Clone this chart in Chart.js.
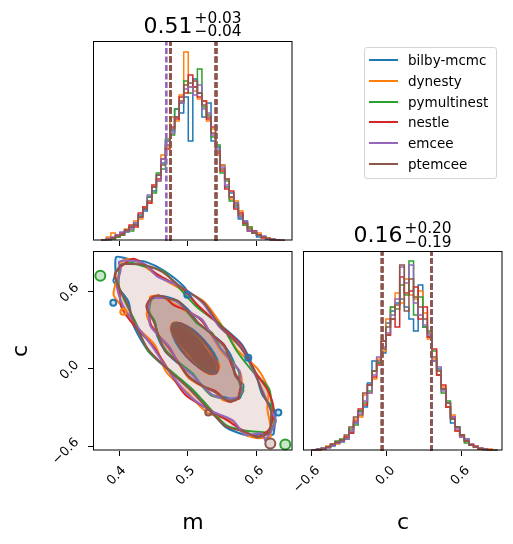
<!DOCTYPE html>
<html>
<head>
<meta charset="utf-8">
<script src="https://cdn.jsdelivr.net/npm/chart.js@4.4.1/dist/chart.umd.min.js"></script>
<style>
  body { margin: 0; background: #fff; }
  #page { position: relative; width: 513px; height: 544px; overflow: hidden; font-family: "DejaVu Sans", sans-serif; color: #000; }
  #page canvas { position: absolute; }
  .num { position: absolute; font-size: 22px; line-height: 22px; white-space: nowrap; }
  .scr { position: absolute; font-size: 15.4px; line-height: 15.4px; white-space: nowrap; }
  #legend { position: absolute; left: 364px; top: 47px; width: 131px; height: 130px; border: 1px solid #d4d4d4; border-radius: 3px; background: #fff; }
  .row { position: absolute; left: 0; width: 131px; height: 16px; font-size: 13.5px; line-height: 16px; white-space: nowrap; }
  .row i { position: absolute; left: 4px; top: 7px; width: 29px; height: 2px; }
  .row span { position: absolute; left: 43px; top: 0; }
</style>
</head>
<body>
<div id="page">
  <canvas id="histM" width="240" height="230" style="left:63px;top:21px"></canvas>
  <canvas id="scat" width="310" height="313" style="left:0px;top:231px"></canvas>
  <canvas id="histC" width="250" height="313" style="left:263px;top:231px"></canvas>

  <div class="num" style="left:143.5px;top:14.7px">0.51</div>
  <div class="scr" style="left:194.5px;top:11px">+0.03</div>
  <div class="scr" style="left:194.5px;top:24.3px">&minus;0.04</div>

  <div class="num" style="left:353.5px;top:224.4px">0.16</div>
  <div class="scr" style="left:404.5px;top:221px">+0.20</div>
  <div class="scr" style="left:404.5px;top:235.3px">&minus;0.19</div>

  <div id="legend"></div>
</div>
<script>
// samplers, in plotting order
const SAMPLERS = ['bilby-mcmc', 'dynesty', 'pymultinest', 'nestle', 'emcee', 'ptemcee'];
const COLORS = ['#1f77b4', '#ff7f0e', '#2ca02c', '#d62728', '#9467bd', '#8c564b'];

const M_TICKS = [0.4, 0.5, 0.6];
const C_TICKS = [-0.6, 0.0, 0.6];

// m histograms: 40 bins starting at 0.375, width 0.0066 (heights as fraction of panel)
const M_START = 0.375, M_WIDTH = 0.0066;
const mHistBilby = [0.003,0.008,0.012,0.02,0.04,0.045,0.07,0.08,0.13,0.15,0.22,0.25,0.33,0.39,0.5,0.55,0.66,0.64,0.72,0.50,0.81,0.74,0.62,0.69,0.50,0.47,0.38,0.27,0.24,0.17,0.11,0.10,0.05,0.05,0.02,0.02,0.01,0.006,0.004,0.002];
const mHistDynesty = [0.006,0.02,0.04,0.02,0.03,0.06,0.06,0.10,0.11,0.17,0.19,0.27,0.30,0.43,0.47,0.62,0.60,0.73,0.945,0.77,0.75,0.71,0.70,0.60,0.56,0.43,0.38,0.31,0.21,0.20,0.15,0.08,0.07,0.04,0.04,0.02,0.015,0.008,0.006,0.003];
const mHistPymultinest = [0.004,0.006,0.01,0.02,0.03,0.05,0.05,0.09,0.12,0.16,0.22,0.24,0.34,0.36,0.51,0.53,0.66,0.69,0.80,0.74,0.77,0.86,0.67,0.63,0.52,0.48,0.34,0.30,0.20,0.19,0.12,0.08,0.07,0.04,0.03,0.02,0.012,0.01,0.004,0.002];
const mHistNestle = [0.003,0.01,0.015,0.03,0.04,0.05,0.08,0.07,0.14,0.17,0.19,0.28,0.31,0.41,0.46,0.57,0.61,0.72,0.74,0.83,0.77,0.72,0.70,0.61,0.57,0.44,0.35,0.26,0.25,0.16,0.14,0.09,0.05,0.05,0.03,0.015,0.012,0.006,0.004,0.002];
const mHistEmcee = [0.004,0.012,0.02,0.03,0.045,0.05,0.06,0.09,0.12,0.16,0.23,0.27,0.30,0.41,0.50,0.54,0.62,0.69,0.76,0.77,0.73,0.78,0.66,0.64,0.53,0.46,0.37,0.28,0.22,0.19,0.12,0.10,0.05,0.045,0.03,0.025,0.01,0.01,0.005,0.002];
const mHistPtemcee = [0.005,0.008,0.015,0.025,0.03,0.055,0.07,0.08,0.12,0.16,0.20,0.27,0.33,0.38,0.48,0.56,0.62,0.70,0.78,0.79,0.80,0.74,0.68,0.62,0.54,0.45,0.36,0.31,0.22,0.18,0.13,0.09,0.06,0.04,0.03,0.02,0.012,0.008,0.005,0.002];

// c histograms: 40 bins starting at -0.6, width 0.037
const C_START = -0.6, C_WIDTH = 0.037;
const cHistBilby = [0.003,0.01,0.015,0.02,0.025,0.04,0.045,0.06,0.09,0.14,0.20,0.22,0.34,0.45,0.44,0.49,0.64,0.70,0.74,0.76,0.72,0.66,0.60,0.83,0.62,0.57,0.45,0.41,0.31,0.22,0.14,0.12,0.07,0.06,0.03,0.02,0.01,0.008,0.004,0.002];
const cHistDynesty = [0.005,0.006,0.012,0.025,0.035,0.035,0.055,0.07,0.10,0.16,0.17,0.28,0.29,0.36,0.46,0.50,0.66,0.72,0.79,0.74,0.86,0.78,0.76,0.80,0.69,0.56,0.46,0.40,0.32,0.22,0.18,0.10,0.07,0.05,0.035,0.02,0.015,0.008,0.01,0.002];
const cHistPymultinest = [0.003,0.008,0.01,0.02,0.03,0.05,0.06,0.06,0.11,0.13,0.20,0.24,0.30,0.40,0.44,0.55,0.58,0.72,0.71,0.83,0.78,0.95,0.68,0.77,0.62,0.60,0.50,0.38,0.29,0.25,0.16,0.12,0.08,0.04,0.03,0.02,0.012,0.008,0.004,0.002];
const cHistNestle = [0.004,0.006,0.012,0.02,0.03,0.04,0.05,0.07,0.09,0.15,0.21,0.23,0.33,0.37,0.43,0.55,0.58,0.66,0.62,0.87,0.79,0.80,0.82,0.66,0.72,0.57,0.51,0.38,0.33,0.22,0.17,0.10,0.08,0.05,0.03,0.025,0.01,0.01,0.005,0.002];
const cHistEmcee = [0.004,0.01,0.012,0.015,0.03,0.04,0.05,0.06,0.10,0.14,0.19,0.25,0.29,0.38,0.47,0.52,0.59,0.68,0.76,0.92,0.84,0.93,0.74,0.68,0.63,0.58,0.45,0.42,0.30,0.24,0.17,0.11,0.07,0.06,0.035,0.02,0.015,0.01,0.004,0.002];
const cHistPtemcee = [0.006,0.008,0.01,0.02,0.035,0.045,0.055,0.08,0.12,0.17,0.18,0.29,0.33,0.40,0.45,0.51,0.62,0.66,0.73,0.93,0.70,0.86,0.77,0.72,0.66,0.59,0.47,0.40,0.31,0.24,0.16,0.12,0.08,0.05,0.03,0.02,0.013,0.008,0.004,0.002];

// 16% / 84% quantiles per sampler
const mLow = [0.4745, 0.4745, 0.4745, 0.4745, 0.4686, 0.4745];
const mHigh = [0.5406, 0.5406, 0.5406, 0.5406, 0.5406, 0.5406];
const cLow = [-0.038, -0.038, -0.038, -0.038, -0.038, -0.038];
const cHigh = [0.358, 0.358, 0.358, 0.358, 0.358, 0.358];

// 2D contours, [m, c] points
const innerBilby = [[0.543,-0.02],[0.545,0.03],[0.538,0.12],[0.524,0.22],[0.506,0.31],[0.49,0.35],[0.479,0.35],[0.476,0.3],[0.482,0.21],[0.497,0.1],[0.514,0.02],[0.532,-0.03]];
const midBilby = [[0.575,-0.23],[0.5793,-0.1724],[0.58,-0.12],[0.5682,-0.0479],[0.566,0.06],[0.5528,0.1842],[0.537,0.26],[0.5147,0.3581],[0.502,0.45],[0.4858,0.5269],[0.47,0.56],[0.4564,0.5659],[0.448,0.55],[0.4407,0.4924],[0.443,0.44],[0.4518,0.3679],[0.455,0.26],[0.4672,0.1358],[0.484,0.05],[0.5053,-0.0381],[0.519,-0.12],[0.5353,-0.2018],[0.553,-0.22],[0.5658,-0.2357]];
const outerBilby = [[0.624,-0.51],[0.6263,-0.4107],[0.626,-0.33],[0.6076,-0.1994],[0.598,-0.03],[0.579,0.1845],[0.552,0.32],[0.5147,0.4817],[0.494,0.64],[0.465,0.7644],[0.44,0.83],[0.4184,0.8462],[0.396,0.87],[0.3948,0.7358],[0.392,0.68],[0.4135,0.5245],[0.42,0.35],[0.4421,0.1406],[0.47,0.0],[0.5052,-0.1617],[0.53,-0.30],[0.5539,-0.45],[0.588,-0.52],[0.606,-0.5058]];

const innerDynesty = [[0.54,-0.04],[0.546,0.02],[0.535,0.11],[0.52,0.22],[0.503,0.31],[0.487,0.36],[0.477,0.355],[0.475,0.30],[0.485,0.20],[0.50,0.10],[0.516,0.01],[0.530,-0.04]];
const midDynesty = [[0.571,-0.24],[0.5749,-0.1928],[0.578,-0.10],[0.5748,-0.0173],[0.56,0.07],[0.5462,0.1536],[0.532,0.28],[0.5202,0.3836],[0.50,0.44],[0.4803,0.5014],[0.466,0.55],[0.4575,0.571],[0.445,0.56],[0.4462,0.5179],[0.44,0.43],[0.4463,0.3424],[0.46,0.25],[0.4738,0.1664],[0.487,0.04],[0.4998,-0.0636],[0.522,-0.14],[0.5397,-0.1814],[0.55,-0.24],[0.5625,-0.251]];
const outerDynesty = [[0.62,-0.53],[0.6197,-0.4413],[0.615,-0.31],[0.6164,-0.1586],[0.601,0.0],[0.5713,0.1488],[0.55,0.33],[0.5235,0.5225],[0.49,0.62],[0.4562,0.7236],[0.436,0.80],[0.4195,0.8513],[0.405,0.84],[0.4014,0.7664],[0.392,0.58],[0.4047,0.4837],[0.425,0.33],[0.452,0.1865],[0.468,-0.02],[0.4997,-0.1872],[0.528,-0.34],[0.5638,-0.4041],[0.58,-0.50],[0.5994,-0.5364]];

const innerPymultinest = [[0.541,-0.03],[0.543,0.02],[0.537,0.11],[0.522,0.21],[0.505,0.30],[0.489,0.35],[0.479,0.35],[0.477,0.30],[0.484,0.21],[0.498,0.10],[0.515,0.02],[0.531,-0.03]];
const midPymultinest = [[0.574,-0.22],[0.5804,-0.1673],[0.575,-0.12],[0.5737,-0.0224],[0.563,0.07],[0.5473,0.1587],[0.535,0.28],[0.5136,0.353],[0.498,0.45],[0.4847,0.5218],[0.468,0.55],[0.4542,0.5557],[0.447,0.54],[0.4451,0.5128],[0.444,0.44],[0.4518,0.3679],[0.457,0.25],[0.4683,0.1409],[0.487,0.05],[0.5064,-0.033],[0.52,-0.13],[0.5342,-0.2069],[0.553,-0.23],[0.5669,-0.2306]];
const outerPymultinest = [[0.618,-0.50],[0.6252,-0.4158],[0.622,-0.32],[0.6175,-0.1535],[0.594,-0.02],[0.5702,0.1437],[0.548,0.34],[0.5136,0.4766],[0.487,0.63],[0.4639,0.7593],[0.434,0.80],[0.414,0.8258],[0.402,0.80],[0.4003,0.7613],[0.4,0.64],[0.4102,0.5092],[0.426,0.34],[0.4421,0.1406],[0.474,-0.01],[0.5063,-0.1566],[0.534,-0.32],[0.5561,-0.4398],[0.585,-0.48],[0.6093,-0.4905]];

const innerNestle = [[0.542,-0.03],[0.544,0.02],[0.536,0.11],[0.522,0.22],[0.504,0.31],[0.488,0.355],[0.478,0.35],[0.476,0.30],[0.484,0.21],[0.498,0.10],[0.516,0.01],[0.532,-0.035]];
const midNestle = [[0.574,-0.23],[0.5738,-0.1979],[0.577,-0.11],[0.5693,-0.0428],[0.561,0.06],[0.5528,0.1842],[0.534,0.27],[0.5191,0.3785],[0.50,0.45],[0.4792,0.4963],[0.468,0.55],[0.4575,0.571],[0.446,0.55],[0.4396,0.4873],[0.443,0.43],[0.4463,0.3424],[0.457,0.26],[0.4727,0.1613],[0.486,0.05],[0.5009,-0.0585],[0.52,-0.13],[0.5408,-0.1763],[0.552,-0.23],[0.5614,-0.2561]];
const outerNestle = [[0.616,-0.48],[0.6208,-0.4362],[0.624,-0.30],[0.6153,-0.1637],[0.596,-0.01],[0.5779,0.1794],[0.546,0.34],[0.5158,0.4868],[0.49,0.63],[0.4573,0.7287],[0.437,0.81],[0.4206,0.8564],[0.404,0.80],[0.3937,0.7307],[0.40,0.63],[0.4036,0.4786],[0.423,0.33],[0.4498,0.1763],[0.473,-0.02],[0.4964,-0.2025],[0.532,-0.32],[0.5616,-0.4143],[0.583,-0.49],[0.6016,-0.5262]];

const innerEmcee = [[0.541,-0.035],[0.543,0.02],[0.536,0.11],[0.522,0.215],[0.505,0.305],[0.489,0.355],[0.478,0.352],[0.476,0.298],[0.484,0.207],[0.498,0.104],[0.515,0.015],[0.531,-0.035]];
const midEmcee = [[0.572,-0.22],[0.5782,-0.1775],[0.576,-0.12],[0.5748,-0.0173],[0.562,0.065],[0.5473,0.1587],[0.533,0.275],[0.5202,0.3836],[0.499,0.45],[0.4847,0.5218],[0.467,0.55],[0.4531,0.5506],[0.447,0.545],[0.444,0.5077],[0.443,0.44],[0.4452,0.3373],[0.458,0.255],[0.4738,0.1664],[0.486,0.048],[0.5053,-0.0381],[0.521,-0.13],[0.5353,-0.2018],[0.552,-0.23],[0.568,-0.2255]];
const outerEmcee = [[0.612,-0.56],[0.6274,-0.4056],[0.62,-0.32],[0.6098,-0.1892],[0.595,-0.02],[0.5768,0.1743],[0.545,0.33],[0.5213,0.5123],[0.489,0.64],[0.4551,0.7185],[0.436,0.82],[0.4173,0.8411],[0.40,0.83],[0.4025,0.7715],[0.397,0.64],[0.4058,0.4888],[0.425,0.34],[0.4487,0.1712],[0.472,-0.015],[0.4986,-0.1923],[0.531,-0.32],[0.5649,-0.399],[0.583,-0.51],[0.6071,-0.5007]];

const innerPtemcee = [[0.5415,-0.0324],[0.5433,0.0215],[0.5361,0.1125],[0.522,0.2162],[0.5046,0.3049],[0.4887,0.3547],[0.4785,0.3524],[0.4767,0.2985],[0.4839,0.2075],[0.498,0.1038],[0.5154,0.0151],[0.5313,-0.0347]];
const midPtemcee = [[0.573,-0.2248],[0.5749,-0.1928],[0.5766,-0.117],[0.5682,-0.0479],[0.5623,0.0649],[0.5517,0.1791],[0.534,0.2724],[0.5147,0.3581],[0.4993,0.4497],[0.4858,0.5269],[0.4674,0.5494],[0.4575,0.571],[0.447,0.5448],[0.4407,0.4924],[0.4434,0.437],[0.4507,0.3628],[0.4577,0.2551],[0.4672,0.1358],[0.486,0.0476],[0.5009,-0.0585],[0.5207,-0.1297],[0.5397,-0.1814],[0.5526,-0.2294],[0.5625,-0.251]];
const outerPtemcee = [[0.617,-0.50],[0.6197,-0.4413],[0.62,-0.32],[0.6087,-0.1943],[0.596,-0.015],[0.5757,0.1692],[0.547,0.33],[0.5224,0.5174],[0.489,0.64],[0.4628,0.7542],[0.436,0.81],[0.4118,0.8156],[0.403,0.81],[0.3948,0.7358],[0.399,0.64],[0.4113,0.5143],[0.424,0.335],[0.4432,0.1457],[0.473,-0.015],[0.5041,-0.1668],[0.531,-0.32],[0.555,-0.445],[0.584,-0.49],[0.6005,-0.5313]];

// small isolated contour islands
const islandM = [0.3729, 0.641, 0.6193, 0.631, 0.5874, 0.5294, 0.3917, 0.4062, 0.499];
const islandC = [0.723, -0.586, -0.579, -0.339, 0.088, -0.339, 0.514, 0.444, 0.576];
const islandOf = [2, 2, 5, 0, 0, 5, 0, 1, 0];

const M_HISTS = [mHistBilby, mHistDynesty, mHistPymultinest, mHistNestle, mHistEmcee, mHistPtemcee];
const C_HISTS = [cHistBilby, cHistDynesty, cHistPymultinest, cHistNestle, cHistEmcee, cHistPtemcee];
const INNER = [innerBilby, innerDynesty, innerPymultinest, innerNestle, innerEmcee, innerPtemcee];
const MID = [midBilby, midDynesty, midPymultinest, midNestle, midEmcee, midPtemcee];
const OUTER = [outerBilby, outerDynesty, outerPymultinest, outerNestle, outerEmcee, outerPtemcee];

const ISLAND_SIZE = [5, 5, 5, 3, 3, 3, 3, 3, 3];

Chart.defaults.font.family = '"DejaVu Sans", sans-serif';
Chart.defaults.color = '#000';
Chart.defaults.animation = false;
Chart.defaults.events = [];
Chart.defaults.plugins.legend.display = false;
Chart.defaults.plugins.tooltip.enabled = false;

// black box round every panel
const frame = {
    id: 'frame',
    afterDraw(chart) {
        const a = chart.chartArea, ctx = chart.ctx;
        ctx.save();
        ctx.strokeStyle = '#000';
        ctx.lineWidth = 1;
        const l = Math.round(a.left) + 0.5, t = Math.round(a.top) + 0.5;
        ctx.strokeRect(l, t, Math.round(a.right) - 1 - l, Math.round(a.bottom) - 1 - t);
        ctx.restore();
    }
};

function rgba(hex, a) {
    const n = parseInt(hex.slice(1), 16);
    return `rgba(${n >> 16},${(n >> 8) & 255},${n & 255},${a})`;
}

// first dataset in the list is drawn first
function drawInOrder(list) {
    const n = list.length;
    list.forEach((d, i) => { d.order = n - i; });
    return list;
}

const fmtM = v => v.toFixed(1);
const fmtC = v => (v < 0 ? '\u2212' : '') + Math.abs(v).toFixed(1);

function xAxis(min, max, tickVals, fmt, showLabels, height, title, labelOffset) {
    return {
        type: 'linear', min: min, max: max,
        afterBuildTicks: s => { s.ticks = tickVals.map(v => ({ value: v })); },
        afterFit: s => { s.height = height; },
        border: { display: false },
        grid: { drawOnChartArea: false, tickLength: 5, tickWidth: 1, tickColor: '#000' },
        ticks: {
            display: showLabels, callback: fmt, autoSkip: false,
            minRotation: 45, maxRotation: 45, padding: 7, labelOffset: labelOffset,
            font: { size: 13 }, color: '#000'
        },
        title: { display: !!title, text: title || '', color: '#000', font: { size: 22 }, padding: { top: 8, bottom: 8 } }
    };
}

function stepPoints(start, width, vals) {
    const pts = [{ x: start, y: 0 }];
    vals.forEach((v, i) => pts.push({ x: start + i * width, y: v }));
    pts.push({ x: start + vals.length * width, y: 0 });
    return pts;
}

function dashLine(v, i) {
    return {
        data: [{ x: v, y: 0 }, { x: v, y: 1 }], showLine: true,
        borderColor: COLORS[i], borderWidth: 2.6, borderDash: [6, 2.5],
        pointRadius: 0, fill: false
    };
}

function histChart(id, cfg) {
    const datasets = [];
    cfg.hists.forEach((vals, i) => {
        datasets.push({
            data: stepPoints(cfg.start, cfg.width, vals), showLine: true, stepped: true,
            borderColor: COLORS[i], borderWidth: 1.5, pointRadius: 0, fill: false
        });
    });
    cfg.lows.forEach((v, i) => datasets.push(dashLine(v, i)));
    cfg.highs.forEach((v, i) => datasets.push(dashLine(v, i)));

    new Chart(document.getElementById(id), {
        type: 'scatter',
        data: { datasets: drawInOrder(datasets) },
        options: {
            responsive: false,
            layout: { padding: cfg.padding },
            scales: {
                x: xAxis(cfg.min, cfg.max, cfg.ticks, cfg.fmt, cfg.showLabels, cfg.axisHeight, cfg.title, cfg.labelOffset),
                y: { display: false, min: 0, max: 1 }
            }
        },
        plugins: [frame]
    });
}

histChart('histM', {
    hists: M_HISTS, start: M_START, width: M_WIDTH, lows: mLow, highs: mHigh,
    min: 0.3623, max: 0.6522, ticks: M_TICKS, fmt: fmtM, showLabels: false,
    axisHeight: 10, title: '', labelOffset: 0,
    padding: { left: 30, right: 10, top: 20, bottom: 0 }
});

histChart('histC', {
    hists: C_HISTS, start: C_START, width: C_WIDTH, lows: cLow, highs: cHigh,
    min: -0.672, max: 0.931, ticks: C_TICKS, fmt: fmtC, showLabels: true,
    axisHeight: 93, title: 'c', labelOffset: 6,
    padding: { left: 40, right: 10, top: 20, bottom: 0 }
});

// 2D panel
function closed(pts) {
    const d = pts.map(p => ({ x: p[0], y: p[1] }));
    d.push({ x: pts[0][0], y: pts[0][1] });
    return d;
}

const scatSets = [];
// light fills of the outer level
OUTER.forEach((pts, i) => {
    scatSets.push({
        data: closed(pts), showLine: true, tension: 0.25, fill: 'shape',
        backgroundColor: i === 5 ? '#efe4e1' : rgba(COLORS[i], 0.15),
        borderWidth: 0, borderColor: 'rgba(0,0,0,0)', pointRadius: 0
    });
});
scatSets.push({
    data: closed(midPtemcee), showLine: true, tension: 0.25, fill: 'shape',
    backgroundColor: '#c5a9a2', borderWidth: 0, borderColor: 'rgba(0,0,0,0)', pointRadius: 0
});
scatSets.push({
    data: closed(innerPtemcee), showLine: true, tension: 0.3, fill: 'shape',
    backgroundColor: '#8c564b', borderWidth: 0, borderColor: 'rgba(0,0,0,0)', pointRadius: 0
});
// contour lines
SAMPLERS.forEach((s, i) => {
    [OUTER[i], MID[i], INNER[i]].forEach((pts, lvl) => {
        scatSets.push({
            data: closed(pts), showLine: true, tension: lvl === 2 ? 0.3 : 0.25, fill: false,
            borderColor: COLORS[i], borderWidth: 2, pointRadius: 0
        });
    });
});
// islands
islandM.forEach((m, k) => {
    const i = islandOf[k];
    scatSets.push({
        data: [{ x: m, y: islandC[k] }],
        pointRadius: ISLAND_SIZE[k], pointBorderWidth: 2,
        pointBorderColor: COLORS[i], pointBackgroundColor: rgba(COLORS[i], 0.25)
    });
});

new Chart(document.getElementById('scat'), {
    type: 'scatter',
    data: { datasets: drawInOrder(scatSets) },
    options: {
        responsive: false,
        layout: { padding: { left: 0, right: 17, top: 20, bottom: 0 } },
        scales: {
            x: xAxis(0.3623, 0.6522, M_TICKS, fmtM, true, 93, 'm', 5),
            y: {
                type: 'linear', min: -0.637, max: 0.916,
                afterBuildTicks: s => { s.ticks = C_TICKS.map(v => ({ value: v })); },
                afterFit: s => { s.width = 93; },
                border: { display: false },
                grid: { drawOnChartArea: false, tickLength: 5, tickWidth: 1, tickColor: '#000' },
                ticks: {
                    callback: fmtC, autoSkip: false, minRotation: 45, maxRotation: 45,
                    padding: 11, labelOffset: -6, font: { size: 13 }, color: '#000'
                },
                title: { display: true, text: 'c', color: '#000', font: { size: 22 }, padding: { top: 8, bottom: 8 } }
            }
        }
    },
    plugins: [frame]
});

// legend
const legend = document.getElementById('legend');
SAMPLERS.forEach((name, i) => {
    const row = document.createElement('div');
    row.className = 'row';
    row.style.top = (4 + i * 20.8) + 'px';
    row.innerHTML = `<i style="background:${COLORS[i]}"></i><span>${name}</span>`;
    legend.appendChild(row);
});
</script>
</body>
</html>
